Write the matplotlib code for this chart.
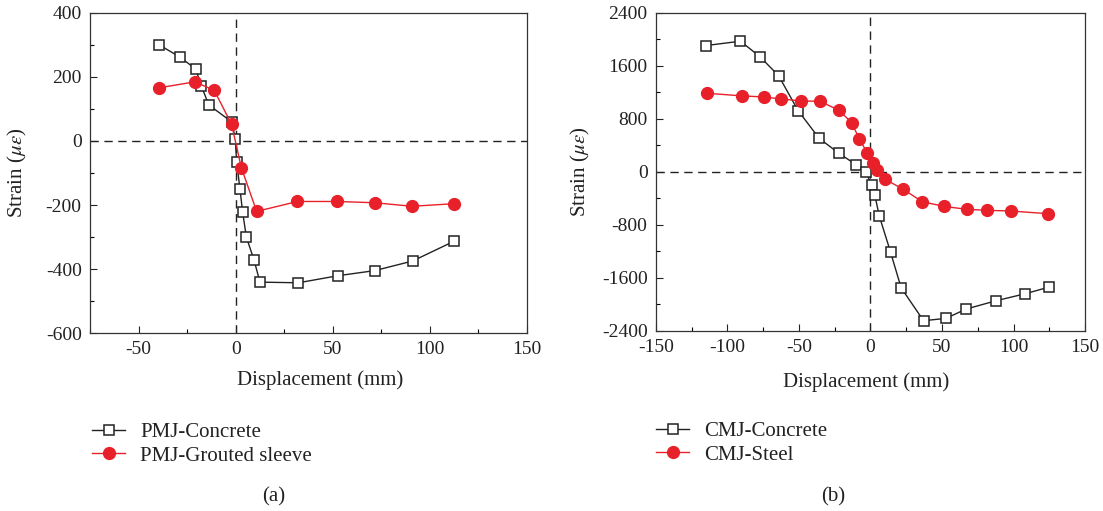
import matplotlib
matplotlib.use("Agg")
import matplotlib.pyplot as plt
from matplotlib.ticker import MultipleLocator

plt.rcParams['font.family'] = ['Liberation Serif', 'DejaVu Serif']
plt.rcParams['mathtext.fontset'] = 'stix'
plt.rcParams['axes.unicode_minus'] = False

# Panel (a)
a_conc_x = [-39.3, -28.9, -20.6, -17.7, -13.9, -1.9, -0.2, 0.5, 2.2, 3.6, 5.5, 9.5, 12.5, 32.3, 52.6, 71.6, 91.1, 112.5]
a_conc_y = [300, 263, 225, 173, 113, 59, 5, -65, -150, -223, -300, -373, -441, -443, -421, -405, -375, -313]
a_sleeve_x = [-39.5, -21.0, -11.0, -2.1, 2.9, 10.8, 31.8, 52.2, 71.8, 90.7, 112.2]
a_sleeve_y = [166, 185, 158, 52, -83, -220, -189, -189, -193, -204, -196]

# Panel (b)
b_conc_x = [-115.2, -90.9, -77.4, -64.3, -50.6, -35.9, -22.1, -9.8, -3.3, 0.9, 3.0, 6.1, 14.0, 21.4, 37.1, 52.7, 66.9, 87.9, 108.2, 124.9]
b_conc_y = [1908, 1974, 1742, 1455, 926, 508, 282, 106, 5, -201, -347, -660, -1208, -1747, -2245, -2210, -2069, -1943, -1838, -1737]
b_steel_x = [-114.2, -89.5, -74.8, -62.9, -48.3, -35.4, -21.9, -13.1, -7.7, -2.3, 1.9, 4.9, 9.8, 22.6, 36.1, 51.3, 67.4, 81.6, 97.9, 123.8]
b_steel_y = [1188, 1148, 1133, 1103, 1072, 1067, 931, 740, 493, 292, 136, 25, -106, -257, -448, -519, -564, -579, -589, -629]

labels_a = ["PMJ-Concrete", "PMJ-Grouted sleeve"]
labels_b = ["CMJ-Concrete", "CMJ-Steel"]

RED = '#e8202a'
INK = '#222222'

fig = plt.figure(figsize=(11.03, 5.11), dpi=100)
axa = fig.add_axes([0.0816, 0.3483, 0.3962, 0.6263])
axb = fig.add_axes([0.5947, 0.3523, 0.3890, 0.6223])

def style(ax, ylab_x, xlab_x, xlab_y):
    ax.tick_params(direction='in', length=5, width=0.8, labelsize=14, colors=INK,
                   top=False, right=False, which='major', pad=6)
    ax.tick_params(direction='in', length=3, width=0.8, which='minor', top=False, right=False)
    for s in ax.spines.values():
        s.set_linewidth(0.9)
        s.set_color('#333333')
    ax.axhline(0, color=INK, ls=(0, (6, 4)), lw=1.0, zorder=1)
    ax.axvline(0, color=INK, ls=(0, (6, 4)), lw=1.0, zorder=1)
    ax.set_xlabel("Displacement (mm)", fontsize=15, color=INK)
    ax.set_ylabel(r"Strain ($\mu\varepsilon$)", fontsize=15, color=INK)
    ax.yaxis.set_label_coords(ylab_x, 0.5)
    ax.yaxis.label.set_verticalalignment('center')
    ax.xaxis.set_label_coords(xlab_x, xlab_y)
    ax.xaxis.label.set_verticalalignment('center')

# (a)
l1, = axa.plot(a_conc_x, a_conc_y, color=INK, lw=1.0, marker='s', ms=7,
               mfc='white', mec=INK, mew=1.1, zorder=3)
l2, = axa.plot(a_sleeve_x, a_sleeve_y, color=RED, lw=1.0, marker='o', ms=8.5,
               mfc=RED, mec=RED, zorder=4)
axa.set_xlim(-75, 150)
axa.set_ylim(-600, 400)
axa.xaxis.set_major_locator(MultipleLocator(50))
axa.xaxis.set_minor_locator(MultipleLocator(25))
axa.yaxis.set_major_locator(MultipleLocator(200))
axa.yaxis.set_minor_locator(MultipleLocator(100))
style(axa, -0.165, 0.526, -0.147)

# (b)
l3, = axb.plot(b_conc_x, b_conc_y, color=INK, lw=1.0, marker='s', ms=7,
               mfc='white', mec=INK, mew=1.1, zorder=3)
l4, = axb.plot(b_steel_x, b_steel_y, color=RED, lw=1.0, marker='o', ms=8.5,
               mfc=RED, mec=RED, zorder=4)
axb.set_xlim(-150, 150)
axb.set_ylim(-2400, 2400)
axb.xaxis.set_major_locator(MultipleLocator(50))
axb.xaxis.set_minor_locator(MultipleLocator(25))
axb.yaxis.set_major_locator(MultipleLocator(800))
axb.yaxis.set_minor_locator(MultipleLocator(400))
style(axb, -0.177, 0.49, -0.161)

leg_kw = dict(loc='center left', bbox_transform=fig.transFigure, frameon=False,
              fontsize=15, handlelength=1.6, handletextpad=0.7, labelspacing=0.2,
              borderaxespad=0, borderpad=0, labelcolor=INK)
fig.legend([l1, l2], labels_a, bbox_to_anchor=(92 / 1103, 1 - 444 / 511), **leg_kw)
fig.legend([l3, l4], labels_b, bbox_to_anchor=(656 / 1103, 1 - 443 / 511), **leg_kw)

fig.text(274 / 1103, 1 - 497 / 511, "(a)", ha='center', va='center', fontsize=15, color=INK)
fig.text(833 / 1103, 1 - 497 / 511, "(b)", ha='center', va='center', fontsize=15, color=INK)

fig.savefig("out.png", dpi=100)
